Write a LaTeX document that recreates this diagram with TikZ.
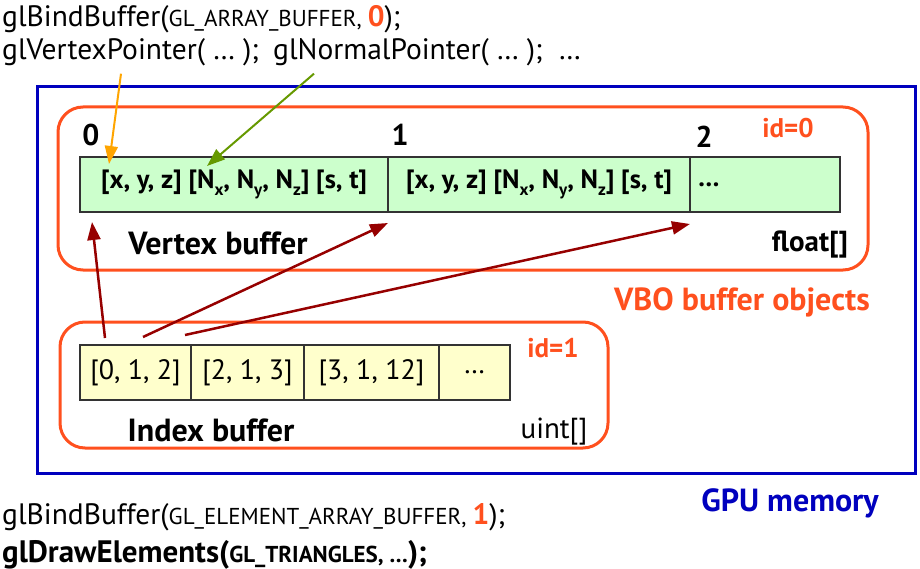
\documentclass[tikz,border=0pt]{standalone}
\usepackage{fontspec}
\setmainfont{PT Sans}
\usetikzlibrary{arrows.meta,positioning}
\definecolor{vboorange}{RGB}{255,80,30}
\definecolor{gpublue}{RGB}{0,0,190}
\definecolor{ptrred}{RGB}{150,0,0}
\definecolor{vgreen}{RGB}{204,255,204}
\definecolor{iyellow}{RGB}{255,255,204}
\definecolor{vtxorange}{RGB}{255,165,0}
\definecolor{nrmgreen}{RGB}{102,153,0}
\newcommand{\glarg}[1]{{\fontsize{23pt}{23pt}\selectfont #1}}
\newcommand{\vsub}[1]{\raisebox{-7pt}{\fontsize{17pt}{17pt}\selectfont #1}}
\newcommand{\bigtext}{\fontsize{29.5pt}{30pt}\selectfont}
\newcommand{\lbltext}{\fontsize{32pt}{32pt}\selectfont\bfseries}
\newcommand{\attrib}{[x, y, z] [N\vsub{x}, N\vsub{y}, N\vsub{z}] [s, t]}
\tikzset{
  vbobox/.style={draw=vboorange, line width=3pt, rounded corners=25pt},
  cell/.style={draw=black!80, line width=1.2pt, minimum height=55pt, inner sep=0pt, outer sep=0pt,
    font=\fontsize{26.5pt}{26.5pt}\selectfont\bfseries},
  vcell/.style={cell, fill=vgreen},
  icell/.style={cell, fill=iyellow, font=\fontsize{28pt}{28pt}\selectfont},
  code/.style={anchor=base west, inner sep=0pt, font=\bigtext},
  lbl/.style={font=\lbltext},
  num/.style={font=\fontsize{30pt}{30pt}\selectfont\bfseries},
  idtext/.style={font=\fontsize{27pt}{27pt}\selectfont\bfseries, text=vboorange},
  ptr/.style={-{Triangle[length=18pt,width=13pt]}, line width=2.5pt, draw=ptrred},
  glptr/.style={-{Triangle[length=18pt,width=13pt]}, line width=2pt},
}
\begin{document}
\begin{tikzpicture}[x=1pt,y=-1pt]
\useasboundingbox (0,0) rectangle (920,569);
% GPU memory
\draw[gpublue, line width=3pt] (37,87) rectangle (915,473);
\node[lbl, text=gpublue] (gpu) at (790,503) {GPU memory};
% vertex buffer
\draw[vbobox] (58,107) rectangle (868,270);
\node[vcell, minimum width=308pt, anchor=west] (v0) at (80,184.5) {\attrib};
\node[vcell, minimum width=302pt, right=0pt of v0] (v1) {\attrib};
\node[vcell, minimum width=150pt, text width=134pt, align=left, right=0pt of v1] (v2) {…};
\node[num] (n0) at (91,135) {0};
\node[num] (n1) at (400,135) {1};
\node[num] (n2) at (704,137) {2};
\node[idtext] (id0) at (788,128) {id=0};
\node[lbl] (vlabel) at (218,243) {Vertex buffer};
\node[font=\fontsize{29pt}{29pt}\selectfont\bfseries] (vtype) at (810,244) {float[]};
\node[lbl, text=vboorange] (vbo) at (742,302) {VBO buffer objects};
% index buffer
\draw[vbobox] (60,322) rectangle (608,448);
\node[icell, minimum width=111pt, anchor=west] (i0) at (80,372.5) {[0, 1, 2]};
\node[icell, minimum width=113pt, right=0pt of i0] (i1) {[2, 1, 3]};
\node[icell, minimum width=135pt, right=0pt of i1] (i2) {[3, 1, 12]};
\node[icell, minimum width=71pt, right=0pt of i2] (i3) {…};
\node[idtext] (id1) at (553,348) {id=1};
\node[lbl] (ilabel) at (211,430) {Index buffer};
\node[font=\fontsize{29pt}{29pt}\selectfont] (itype) at (554,432) {uint[]};
% code
\node[code] (bind0) at (2,27) {glBindBuffer(\glarg{GL\_ARRAY\_BUFFER, }\textcolor{vboorange}{\bfseries 0});};
\node[code] (vp) at (2,60) {glVertexPointer( … );};
\node[code] (np) at (273,60) {glNormalPointer( … );\ \ …};
\node[code] (bind1) at (2,524) {glBindBuffer(\glarg{GL\_ELEMENT\_ARRAY\_BUFFER, }\textcolor{vboorange}{\bfseries 1});};
\node[code, font=\fontsize{31pt}{31pt}\selectfont\bfseries] (drawel) at (2,562) {glDrawElements(\glarg{GL\_TRIANGLES, …});};
% pointers
\draw[glptr, vtxorange]
  ([xshift=119pt,yshift=-7pt]vp.south west) -- ([xshift=29pt,yshift=-7pt]v0.north west);
\draw[glptr, nrmgreen]
  ([xshift=41pt,yshift=-7pt]np.south west) -- ([xshift=127pt,yshift=-9pt]v0.north west);
\draw[ptr] ([xshift=25pt,yshift=7pt]i0.north west) -- ([xshift=12pt,yshift=-10pt]v0.south west);
\draw[ptr] ([xshift=63pt,yshift=8pt]i0.north west) -- ([yshift=-11pt]v1.south west);
\draw[ptr] ([xshift=105pt,yshift=10pt]i0.north west) -- ([yshift=-12pt]v2.south west);
\end{tikzpicture}
\end{document}
